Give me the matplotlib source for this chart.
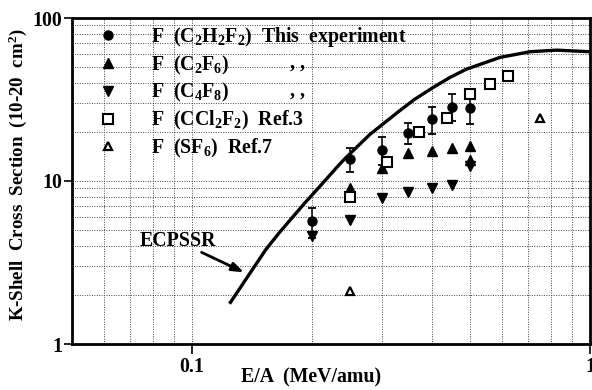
import matplotlib
matplotlib.use("Agg")
import matplotlib.pyplot as plt
from matplotlib.ticker import FixedLocator, NullFormatter

plt.rcParams["font.family"] = "Liberation Serif"
plt.rcParams["font.weight"] = "bold"
plt.rcParams["axes.labelweight"] = "bold"
plt.rcParams["mathtext.fontset"] = "custom"
plt.rcParams["mathtext.rm"] = "Liberation Serif:bold"
plt.rcParams["mathtext.it"] = "Liberation Serif:bold"
plt.rcParams["mathtext.bf"] = "Liberation Serif:bold"
plt.rcParams["mathtext.default"] = "rm"

FS = 14.3

# F K-shell cross sections (10^-20 cm^2) vs E/A (MeV/amu)
e_c2h2f2 = [0.20, 0.25, 0.30, 0.35, 0.40, 0.45, 0.50]
s_c2h2f2 = [5.66, 13.6, 15.6, 19.8, 23.9, 28.6, 27.9]
err_c2h2f2 = [1.2, 2.3, 3.0, 3.0, 4.4, 5.4, 5.4]

e_c2f6 = [0.25, 0.30, 0.35, 0.40, 0.45, 0.50, 0.50]
s_c2f6 = [9.1, 12.0, 14.9, 15.3, 16.0, 16.4, 13.4]

e_c4f8 = [0.20, 0.25, 0.30, 0.35, 0.40, 0.45, 0.50]
s_c4f8 = [4.57, 5.8, 7.88, 8.6, 9.0, 9.4, 12.3]

e_ccl2f2 = [0.25, 0.31, 0.373, 0.437, 0.50, 0.56, 0.622]
s_ccl2f2 = [8.0, 13.0, 20.1, 24.2, 34.0, 39.3, 44.2]

e_sf6 = [0.25, 0.75]
s_sf6 = [2.1, 24.2]

# ECPSSR theory curve
e_theory = [0.125, 0.1533, 0.1656, 0.19, 0.2171, 0.2345, 0.2437, 0.28, 0.332,
            0.3627, 0.403, 0.445, 0.489, 0.594, 0.707, 0.824, 1.0]
s_theory = [1.80, 3.79, 4.80, 7.1, 10.2, 12.6, 13.9, 19.3, 26.9,
            31.7, 37.4, 43.2, 48.5, 57.3, 62.1, 63.5, 62.1]

labels = [r"F  (C$_2$H$_2$F$_2$)  This  experiment",
          r"F  (C$_2$F$_6$)",
          r"F  (C$_4$F$_8$)",
          r"F  (CCl$_2$F$_2$)  Ref.3",
          r"F  (SF$_6$)  Ref.7"]

fig = plt.figure(figsize=(5.92, 3.90), dpi=100)
ax = fig.add_axes([72 / 592, 1 - 344 / 390, 518 / 592, 326 / 390])
ax.set_xscale("log")
ax.set_yscale("log")
ax.set_xlim(0.05, 1.0)
ax.set_ylim(1, 100)

ax.set_xticks([0.1, 1.0], ["0.1", "1"])
ax.set_yticks([1, 10, 100], ["1", "10", "100"])
ax.xaxis.set_minor_locator(FixedLocator([0.06, 0.07, 0.08, 0.09] +
                                        [0.2, 0.3, 0.4, 0.5, 0.6, 0.7, 0.8, 0.9]))
ax.yaxis.set_minor_locator(FixedLocator([2, 3, 4, 5, 6, 7, 8, 9] +
                                        [20, 30, 40, 50, 60, 70, 80, 90]))
ax.xaxis.set_minor_formatter(NullFormatter())
ax.yaxis.set_minor_formatter(NullFormatter())
ax.tick_params(which="major", length=7, width=1.2, labelsize=FS, pad=2)
ax.tick_params(which="minor", length=0)
ax.tick_params(axis="y", which="major", length=6, pad=1)
ax.grid(True, which="both", linestyle=(0, (1, 1.5)), color="#444444", linewidth=0.7)
for s in ax.spines.values():
    s.set_linewidth(2.0)

ax.plot(e_theory, s_theory, color="black", lw=2.4, zorder=3)

ax.errorbar(e_c2h2f2, s_c2h2f2, yerr=err_c2h2f2, fmt="none", ecolor="black",
            elinewidth=1.1, capsize=3.2, capthick=1.3, zorder=4)
h1, = ax.plot(e_c2h2f2, s_c2h2f2, "o", color="black", ms=6.5, ls="none", zorder=5)
h2, = ax.plot(e_c2f6, s_c2f6, "^", color="black", ms=7.2, ls="none", zorder=5)
h3, = ax.plot(e_c4f8, s_c4f8, "v", color="black", ms=7.2, ls="none", zorder=5)
h4, = ax.plot(e_ccl2f2, s_ccl2f2, "s", mfc="white", mec="black", mew=1.5,
              ms=6.5, ls="none", zorder=5)
h5, = ax.plot(e_sf6, s_sf6, "^", mfc="white", mec="black", mew=1.6,
              ms=6.2, ls="none", zorder=5)

leg = ax.legend([h1, h2, h3, h4, h5], labels, loc="upper left",
                bbox_to_anchor=(0.05, 0.978), frameon=False, fontsize=FS,
                handlelength=1.0, handletextpad=1.65, labelspacing=0.23,
                borderaxespad=0, borderpad=0)

# ditto marks for the second and third entries
ax.text(0.42, 0.847, ", ,", transform=ax.transAxes, fontsize=FS, va="baseline")
ax.text(0.42, 0.761, ", ,", transform=ax.transAxes, fontsize=FS, va="baseline")

ax.text(0.0922, 4.3, "ECPSSR", ha="center", va="center", fontsize=FS)
ax.annotate("", xy=(0.1352, 2.75), xytext=(0.1058, 3.65),
            arrowprops=dict(arrowstyle="-|>,head_length=0.7,head_width=0.25",
                            color="black", lw=2.0, shrinkA=0, shrinkB=0))

ax.set_xlabel("E/A  (MeV/amu)", fontsize=FS)
ax.xaxis.set_label_coords(0.461, -0.072)
ax.set_ylabel(r"K-Shell  Cross  Section  (10-20  cm$^2$)", fontsize=13.6)
ax.yaxis.set_label_coords(-0.083, 0.52)

fig.savefig("out.png", dpi=100)
